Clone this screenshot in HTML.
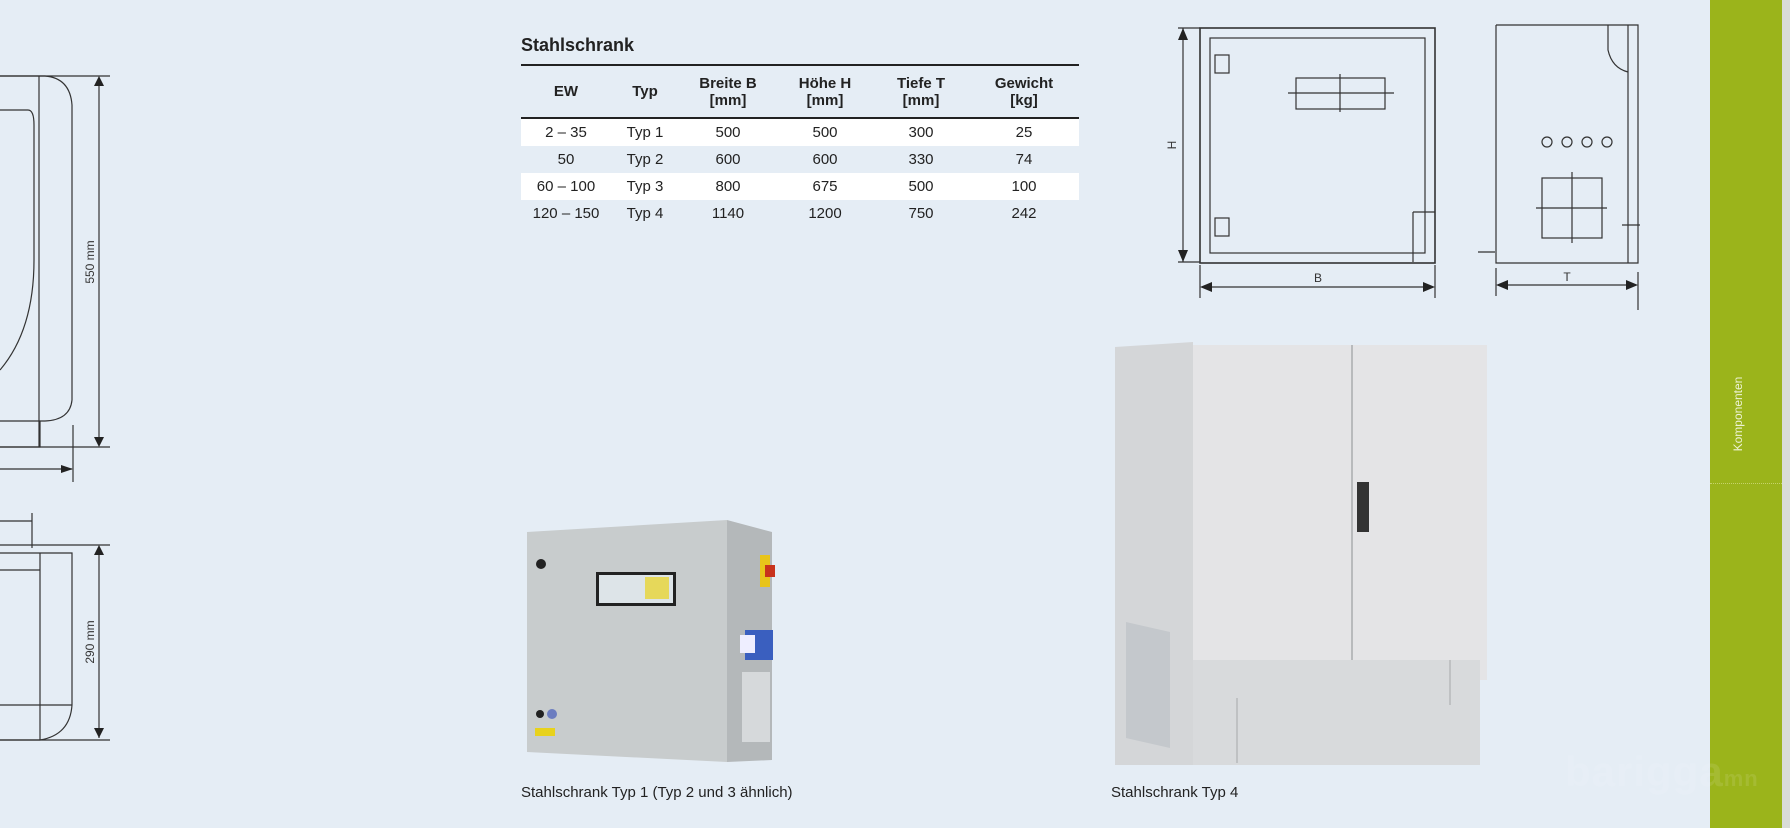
<!DOCTYPE html>
<html><head><meta charset="utf-8"><style>
body{margin:0;width:1790px;height:828px;background:#e5edf5;position:relative;overflow:hidden;font-family:"Liberation Sans",sans-serif;color:#222}
.abs{position:absolute}
table{border-collapse:collapse;font-size:15px}
td,th{text-align:center;padding:0;height:27px}
th{font-weight:bold;font-size:15px;line-height:17px;height:51px}
tr.w td{background:#fff}
</style></head><body>
<div class="abs" style="left:521px;top:35px;font-weight:bold;font-size:18px">Stahlschrank</div>
<table class="abs" style="left:521px;top:64px;width:558px;border-top:2px solid #222">
<colgroup><col style="width:90px"><col style="width:68px"><col style="width:98px"><col style="width:96px"><col style="width:96px"><col style="width:110px"></colgroup>
<tr style="border-bottom:2px solid #222"><th>EW</th><th>Typ</th><th>Breite B<br>[mm]</th><th>Höhe H<br>[mm]</th><th>Tiefe T<br>[mm]</th><th>Gewicht<br>[kg]</th></tr>
<tr class="w"><td>2 – 35</td><td>Typ 1</td><td>500</td><td>500</td><td>300</td><td>25</td></tr>
<tr><td>50</td><td>Typ 2</td><td>600</td><td>600</td><td>330</td><td>74</td></tr>
<tr class="w"><td>60 – 100</td><td>Typ 3</td><td>800</td><td>675</td><td>500</td><td>100</td></tr>
<tr><td>120 – 150</td><td>Typ 4</td><td>1140</td><td>1200</td><td>750</td><td>242</td></tr>
</table>

<svg class="abs" style="left:0;top:0" width="1790" height="828">
<g fill="none" stroke="#333" stroke-width="1.2">
<!-- left drawing top -->
<path d="M0 76 H45 Q70 78 72 105 V400 Q70 420 45 421 H0"/>
<path d="M0 110 H28 Q34 110 34 125 V260 Q34 330 0 370"/>
<path d="M39 76 V447"/><path d="M0 447 H40 V421"/>
<path d="M0 469 H72"/><path d="M73 425 V482"/>
<path d="M0 76 H110 M0 447 H110 M99 78 V445"/>
<path d="M0 545 H110 M0 740 H110 M99 547 V738"/>
<path d="M0 521 H32 M32 513 V548"/>
<path d="M0 553 H72 V705 Q70 735 40 740 H0"/><path d="M40 553 V740"/>
<path d="M0 570 H40 M0 705 H72"/>
<!-- front view -->
<rect x="1200" y="28" width="235" height="235" stroke-width="1.6"/>
<rect x="1210" y="38" width="215" height="215"/>
<path d="M1183 28 V262 M1178 262 H1200 M1178 28 H1200"/>
<path d="M1200 265 V298 M1435 265 V298 M1202 287 H1433"/>
<rect x="1296" y="78" width="89" height="31"/>
<path d="M1288 93 H1394 M1340 74 V112"/>
<rect x="1215" y="55" width="14" height="18"/><rect x="1215" y="218" width="14" height="18"/>
<path d="M1413 212 H1435 M1413 212 V262"/>
<!-- side view -->
<path d="M1496 25 V263 H1638 V25 H1496 M1628 25 V263"/>
<path d="M1608 25 V50 Q1612 68 1628 72"/>
<rect x="1542" y="178" width="60" height="60"/>
<path d="M1536 208 H1607 M1572 172 V243"/>
<path d="M1496 268 V296 M1638 272 V310 M1498 285 H1636"/>
<path d="M1478 252 H1495"/><path d="M1622 225 H1640"/>
<circle cx="1547" cy="142" r="5"/><circle cx="1567" cy="142" r="5"/><circle cx="1587" cy="142" r="5"/><circle cx="1607" cy="142" r="5"/>
</g>
<g fill="#222">
<path d="M99 76 l-5 10 h10z M99 447 l-5 -10 h10z M99 545 l-5 10 h10z M99 738 l-5 -10 h10z"/>
<path d="M73 469 l-12 -4 v8z"/>
<path d="M1183 28 l-5 12 h10z M1183 262 l-5 -12 h10z M1200 287 l12 -5 v10z M1435 287 l-12 -5 v10z"/>
<path d="M1496 285 l12 -5 v10z M1638 285 l-12 -5 v10z"/>
</g>
<g font-family="Liberation Sans Narrow,Liberation Sans,sans-serif" font-size="12" fill="#333">
<text transform="translate(94,262) rotate(-90)" text-anchor="middle">550 mm</text>
<text transform="translate(94,642) rotate(-90)" text-anchor="middle">290 mm</text>
<text transform="translate(1176,145) rotate(-90)" text-anchor="middle">H</text>
<text x="1318" y="282" text-anchor="middle">B</text>
<text x="1567" y="281" text-anchor="middle">T</text>
</g>
<!-- type 1 photo -->
<polygon points="527,532 727,520 727,762 527,752" fill="#c8cccd"/>
<polygon points="727,520 772,532 772,760 727,762" fill="#b4b8ba"/>
<rect x="596" y="572" width="80" height="34" fill="#222"/><rect x="599" y="575" width="74" height="28" fill="#dde4e8"/>
<rect x="645" y="577" width="24" height="22" fill="#e6d85a"/>
<circle cx="541" cy="564" r="5" fill="#222"/><circle cx="540" cy="714" r="4" fill="#222"/><circle cx="552" cy="714" r="5" fill="#6c7dc0"/>
<rect x="535" y="728" width="20" height="8" fill="#e8d21c"/>
<rect x="760" y="555" width="10" height="32" fill="#e8c41a"/><rect x="765" y="565" width="10" height="12" fill="#c8321c"/>
<rect x="745" y="630" width="28" height="30" fill="#3a5fbf"/><rect x="740" y="635" width="15" height="18" fill="#eef"/>
<rect x="742" y="672" width="28" height="70" fill="#d6d9db"/>
<!-- type 4 photo -->
<polygon points="1115,347 1193,342 1193,765 1115,765" fill="#d4d6d8"/>
<rect x="1193" y="345" width="294" height="335" fill="#e4e4e6"/>
<path d="M1352 345 V665" stroke="#b8babc" stroke-width="2"/>
<rect x="1357" y="482" width="12" height="50" fill="#333"/>
<rect x="1193" y="660" width="287" height="105" fill="#d8dadc"/>
<path d="M1237 698 V763 M1450 660 V705" stroke="#bfc1c3" stroke-width="2"/>
<polygon points="1126,622 1170,632 1170,748 1126,738" fill="#c4c8cc"/>
</svg>

<div class="abs" style="left:521px;top:784px;font-size:15px">Stahlschrank Typ 1 (Typ 2 und 3 ähnlich)</div>
<div class="abs" style="left:1111px;top:784px;font-size:15px">Stahlschrank Typ 4</div>

<div class="abs" style="left:1710px;top:0;width:72px;height:828px;background:#9bb41b"></div>
<div class="abs" style="left:1782px;top:0;width:8px;height:828px;background:#d9dcd7"></div>
<div class="abs" style="left:1710px;top:483px;width:72px;border-top:1px dotted #c5d36a"></div>
<div class="abs" style="left:1738px;top:414px;transform:translate(-50%,-50%) rotate(-90deg);color:#eef3d6;font-size:12px;white-space:nowrap">Komponenten</div>
<div class="abs" style="left:1565px;top:748px;font-size:42px;font-weight:bold;color:rgba(255,255,255,0.1);letter-spacing:1px">barigga<span style="font-size:22px">mn</span></div>
</body></html>
